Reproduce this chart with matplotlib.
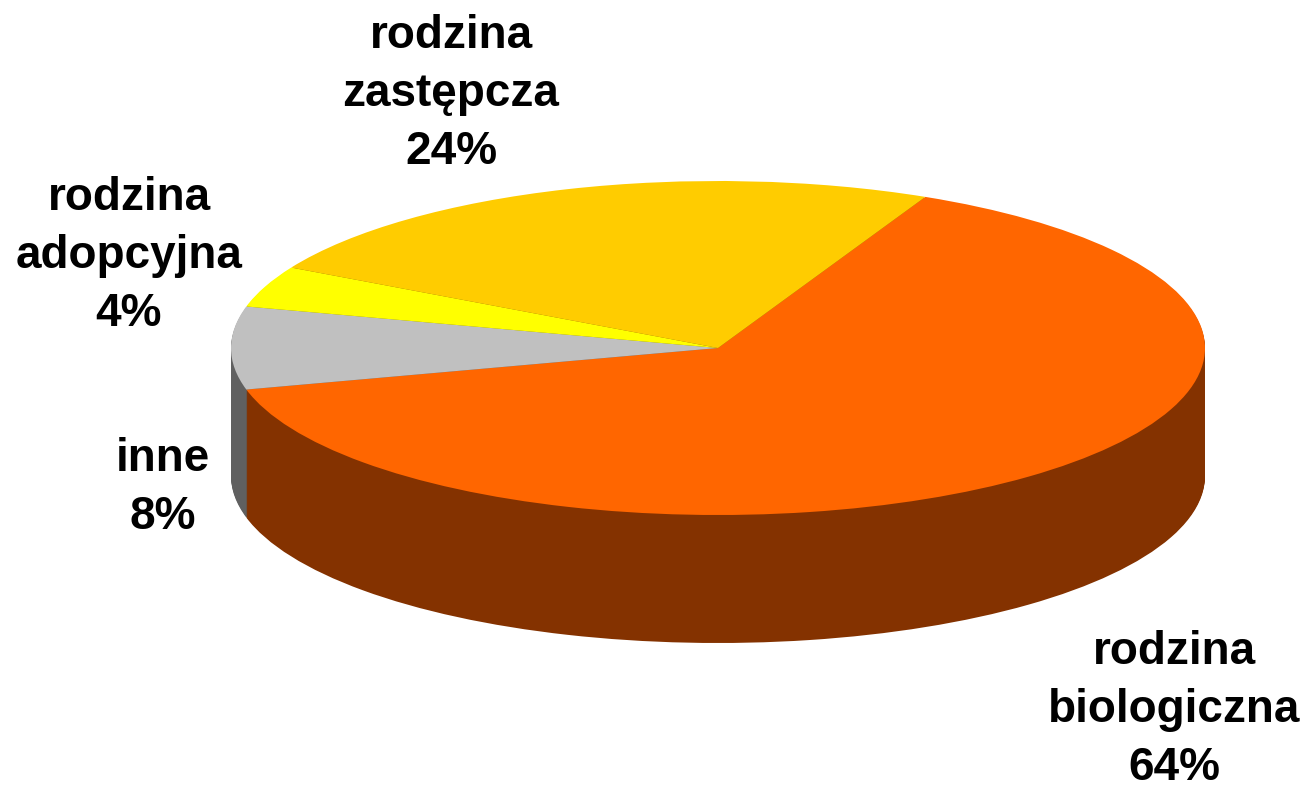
import matplotlib
matplotlib.use("Agg")
import matplotlib.pyplot as plt

labels = ["rodzina\nbiologiczna", "inne", "rodzina\nadopcyjna", "rodzina\nzastępcza"]
values = [64, 8, 4, 24]
top_colors = ["#FF6600", "#C0C0C0", "#FFFF00", "#FFCC00"]
side_colors = ["#843200", "#606060", "#848400", "#846A00"]
# label centres in pixels of the 1304x788 picture
label_pos = [(1174, 710), (163, 488), (129, 256), (451, 94)]

W, H = 1304, 788
cx, cy = 718, 348      # pie centre
rx, ry = 487, 167      # ellipse radii
depth = 128
start = 64.8

plt.rcParams["font.family"] = ["Liberation Sans", "DejaVu Sans"]

fig = plt.figure(figsize=(W / 100, H / 100), dpi=100)
ax = fig.add_axes([0, 0, 1, 1])


def draw_pie(offset, colors):
    wedges, _ = ax.pie(values, colors=colors, startangle=start, counterclock=False,
                       center=(0, -offset / ry), radius=1, normalize=True,
                       wedgeprops={"linewidth": 0})
    return wedges


# side of the disc: stacked dark layers, bottom first
for d in range(depth, 0, -1):
    draw_pie(d, side_colors)
draw_pie(0, top_colors)

ax.set_aspect("auto")
ax.set_xlim(-cx / rx, (W - cx) / rx)
ax.set_ylim(-(H - cy) / ry, cy / ry)
ax.axis("off")

for lab, val, (x, y) in zip(labels, values, label_pos):
    fig.text(x / W, 1 - y / H, f"{lab}\n{val}%", ha="center", va="center",
             fontsize=33, fontweight="bold", color="black", linespacing=1.42)

fig.savefig("out.png", dpi=100)
